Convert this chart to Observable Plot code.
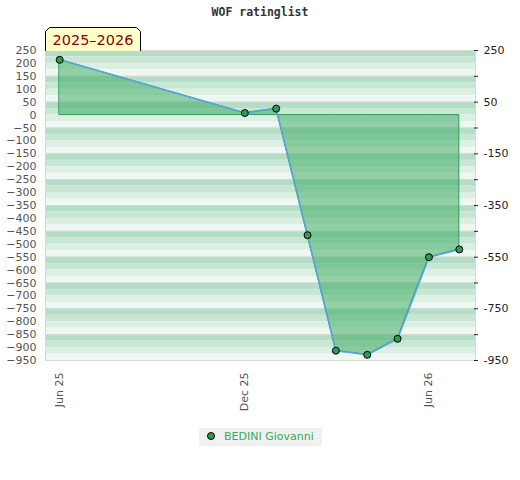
<!DOCTYPE html>
<html>
<head>
<meta charset="utf-8">
<script src="https://cdn.jsdelivr.net/npm/d3@7"></script>
<script src="https://cdn.jsdelivr.net/npm/@observablehq/plot@0.6"></script>
<style>
  body { margin: 0; background: #fff; }
  #wrap { position: relative; width: 520px; height: 480px; font-family: "DejaVu Sans", sans-serif; }
  #title { position: absolute; left: 0; top: 5px; width: 520px; text-align: center; font: bold 11.5px "DejaVu Sans Mono", monospace; color: #333; }
  #badge { position: absolute; left: 45px; top: 27px; }
  #chart { position: absolute; left: 0; top: 0; }
  #legend { position: absolute; left: 199px; top: 428px; width: 123px; height: 18px; background: #f0f0f0; }
  #legend .dot { position: absolute; left: 8px; top: 4px; width: 6px; height: 6px; border-radius: 50%; background: #2e9a55; border: 1px solid #000; }
  #legend .lab { position: absolute; left: 25px; top: 2px; font: 11px "DejaVu Sans", sans-serif; color: #3aaa5c; white-space: nowrap; }
</style>
</head>
<body>
<div id="wrap">
  <div id="chart"></div>
  <div id="title">WOF ratinglist</div>
  <svg id="badge" width="97" height="24">
    <path d="M0.5,24 L0.5,4.5 L4.5,0.5 L91.5,0.5 L95.5,4.5 L95.5,24" fill="#ffffcc" stroke="#000" stroke-width="1"/>
    <text x="48" y="18" text-anchor="middle" font-family="DejaVu Sans" font-size="14.5" fill="#8b0000">2025–2026</text>
  </svg>
  <div id="legend"><div class="dot"></div><div class="lab">BEDINI Giovanni</div></div>
</div>
<script>
const seriesName = "BEDINI Giovanni";
const months = ["2025-06-01","2025-12-01","2026-01-01","2026-02-01","2026-03-01","2026-04-01","2026-05-01","2026-06-01","2026-07-01"];
const ratings = [214, 8, 25, -465, -912, -928, -866, -550, -520];
const leftTicks = d3.range(-950, 251, 50);
const rightTicks = d3.range(-950, 251, 100);
const rightLabels = [250, 50, -150, -350, -550, -750, -950];
const xTicks = ["2025-06-01","2025-12-01","2026-06-01"];

const data = months.map((m, i) => ({date: new Date(m + "T00:00:00"), rating: ratings[i]}));

// decorative background stripes (4 shades per 100-point band)
const stripeColors = ["#b3dec5", "#c7e7d4", "#dbefe3", "#eef7f1"];
const stripes = d3.range(0, 48).map(k => ({y1: 250 - 25 * k, y2: 250 - 25 * (k + 1), c: stripeColors[k % 4]}));
const bandLines = d3.range(150, -951, -100);

const chart = Plot.plot({
  width: 520,
  height: 420,
  marginTop: 50,
  marginBottom: 60,
  marginLeft: 45,
  marginRight: 45,
  style: {fontFamily: "DejaVu Sans, sans-serif", fontSize: "11px", background: "transparent"},
  x: {type: "time", domain: [new Date("2025-05-18T00:00:00"), new Date("2026-07-17T00:00:00")]},
  y: {domain: [-950, 250]},
  marks: [
    Plot.rect(stripes, {y1: "y1", y2: "y2", fill: "c", inset: 0}),
    Plot.ruleY(bandLines, {stroke: "#d6d6d6", strokeWidth: 1}),
    Plot.frame({stroke: "#d8d8d8"}),
    Plot.areaY(data, {x: "date", y: "rating", fill: "#36a85c", fillOpacity: 0.5, stroke: "#2e9e55", strokeWidth: 1}),
    Plot.line(data, {x: "date", y: "rating", stroke: "#5ba3dc", strokeWidth: 1.6}),
    Plot.dot(data, {x: "date", y: "rating", r: 3.5, fill: "#2e9a55", stroke: "#000", strokeWidth: 1}),
    Plot.axisY(leftTicks, {anchor: "left", tickSize: 0, tickPadding: 9, fill: "#555", label: null}),
    Plot.axisY(rightTicks, {anchor: "right", tickSize: 4, dx: -2, tickPadding: 6, stroke: "#222", fill: "#222",
      tickFormat: d => rightLabels.includes(d) ? String(d) : "", label: null}),
    Plot.axisX(xTicks.map(s => new Date(s + "T00:00:00")), {tickSize: 0, tickPadding: 12, tickRotate: -90,
      tickFormat: d3.timeFormat("%b %y"), fill: "#555", label: null})
  ]
});
document.getElementById("chart").appendChild(chart);
</script>
</body>
</html>
